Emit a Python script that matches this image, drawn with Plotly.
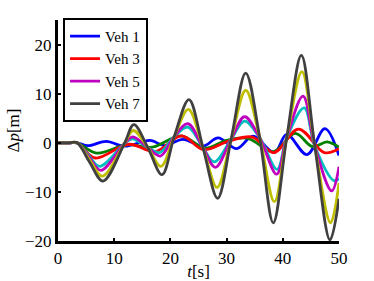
import plotly.graph_objects as go

# ---- data (time [s], deviation [m]) ----
t_veh1 = [0, 2.0, 3.4, 5.3, 8.6, 11.9, 16.4, 19.0, 22.2, 25.8, 28.5, 31.8, 34.7, 38.5, 40.7, 44.3, 47.5, 50]
p_veh1 = [0, 0, 0, -0.6, 0.3, -0.7, 0.5, -0.6, 0.7, -0.7, 1.0, -1.2, 1.35, -2.0, 1.7, -2.4, 2.9, -2.6]

t_veh2 = [0, 2.0, 3.4, 6.9, 12.3, 16.8, 21.9, 26.2, 30.0, 33.8, 38.3, 42.2, 45.3, 47.9, 50]
p_veh2 = [0, 0, 0, -2.1, -0.4, -0.9, 1.4, -1.1, 0.5, 0.9, -1.8, 1.9, -0.8, 0.2, -0.9]

t_veh3 = [0, 2.0, 3.4, 6.6, 12.6, 17.3, 22.0, 25.9, 30.5, 34.6, 38.4, 42.8, 47.4, 50]
p_veh3 = [0, 0, 0, -3.1, -0.3, -1.8, 1.4, -1.4, 0.4, 1.15, -2.0, 2.8, -2.0, -1.2]

t_veh4 = [0, 2.0, 3.4, 5.4, 7.4, 11.8, 13.2, 16.0, 18.1, 20.7, 23.1, 25.8, 27.8, 30.8, 33.2, 35.9, 39.0, 40.7, 43.8, 45.7, 49.1, 50]
p_veh4 = [0, 0, 0, -2.5, -4.8, -0.2, 0.8, -1.0, -2.0, 1.3, 3.2, -1.0, -3.9, 0.7, 4.4, 1.0, -5.4, 1.0, 7.1, -0.7, -7.7, -7.3]

t_veh5 = [0, 2.0, 3.4, 5.5, 7.6, 11.8, 13.3, 16.0, 18.2, 20.7, 23.1, 25.8, 28.0, 30.8, 33.2, 35.9, 38.9, 40.7, 43.6, 45.7, 48.7, 50]
p_veh5 = [0, 0, 0, -2.9, -5.6, -0.2, 1.2, -1.0, -2.7, 1.3, 3.9, -1.0, -5.0, 0.7, 5.3, 1.0, -6.4, 1.0, 9.5, -0.7, -9.8, -4.9]

t_veh6 = [0, 2.0, 3.4, 5.6, 7.9, 11.8, 13.4, 16.0, 18.3, 20.7, 23.2, 25.8, 28.3, 30.8, 33.4, 35.9, 38.5, 40.7, 43.4, 45.7, 48.5, 50]
p_veh6 = [0, 0, 0, -3.4, -6.8, -0.2, 2.5, -1.0, -4.8, 1.3, 6.8, -1.0, -9.1, 0.7, 10.7, 1.0, -12.0, 1.0, 14.5, -0.7, -16.3, -8.2]

t_veh7 = [0, 2.0, 3.4, 5.6, 8.0, 11.8, 13.5, 16.0, 18.5, 20.7, 23.3, 25.8, 28.4, 30.8, 33.4, 35.9, 38.3, 40.7, 43.3, 45.7, 48.4, 50]
p_veh7 = [0, 0, 0, -3.9, -7.8, -0.2, 3.7, -1.0, -6.5, 1.3, 8.8, -1.0, -11.3, 0.7, 14.2, 1.0, -16.3, 1.0, 17.8, -0.7, -19.8, -11.4]

names = ["Veh 1", "Veh 2", "Veh 3", "Veh 4", "Veh 5", "Veh 6", "Veh 7"]
in_legend = [True, False, True, False, True, False, True]
colors = ["#0000ff", "#008000", "#ff0000", "#00bfbf", "#bf00bf", "#bfbf00", "#404040"]

x_ticks = [0, 10, 20, 30, 40, 50]
y_ticks = [-20, -10, 0, 10, 20]

series = [(t_veh1, p_veh1), (t_veh2, p_veh2), (t_veh3, p_veh3), (t_veh4, p_veh4),
          (t_veh5, p_veh5), (t_veh6, p_veh6), (t_veh7, p_veh7)]

FONT = "Liberation Serif, Times New Roman, serif"

fig = go.Figure()
for (t, p), name, show, col in zip(series, names, in_legend, colors):
    fig.add_trace(go.Scatter(
        x=t, y=p, mode="lines", name=name, showlegend=show,
        line=dict(color=col, width=2.8, shape="spline", smoothing=1.0),
    ))

axis_common = dict(
    showgrid=False, zeroline=False, showline=True, linecolor="black", linewidth=3,
    ticks="inside", ticklen=3, tickwidth=1.5, tickcolor="black",
    tickfont=dict(family=FONT, size=17, color="black"),
    automargin=False,
)

fig.update_layout(
    template="none",
    width=374, height=281,
    margin=dict(l=58, r=35, t=20, b=40, autoexpand=False),
    paper_bgcolor="white", plot_bgcolor="white",
    font=dict(family=FONT, color="black"),
    xaxis=dict(range=[0, 50], tickvals=x_ticks, **axis_common,
               title=dict(text="<i>t</i>[s]", font=dict(family=FONT, size=17), standoff=0)),
    yaxis=dict(range=[-20, 25], tickvals=y_ticks, **axis_common,
               title=dict(text="Δ<i>p</i>[m]", font=dict(family=FONT, size=17), standoff=2)),
    legend=dict(x=0.018, y=1.01, xanchor="left", yanchor="top",
                bgcolor="white", bordercolor="black", borderwidth=2,
                font=dict(family=FONT, size=15, color="black"),
                tracegroupgap=0),
    showlegend=True,
)

fig.write_html("out.html", config={"displayModeBar": False},
               post_script="document.body.style.margin='0';")
